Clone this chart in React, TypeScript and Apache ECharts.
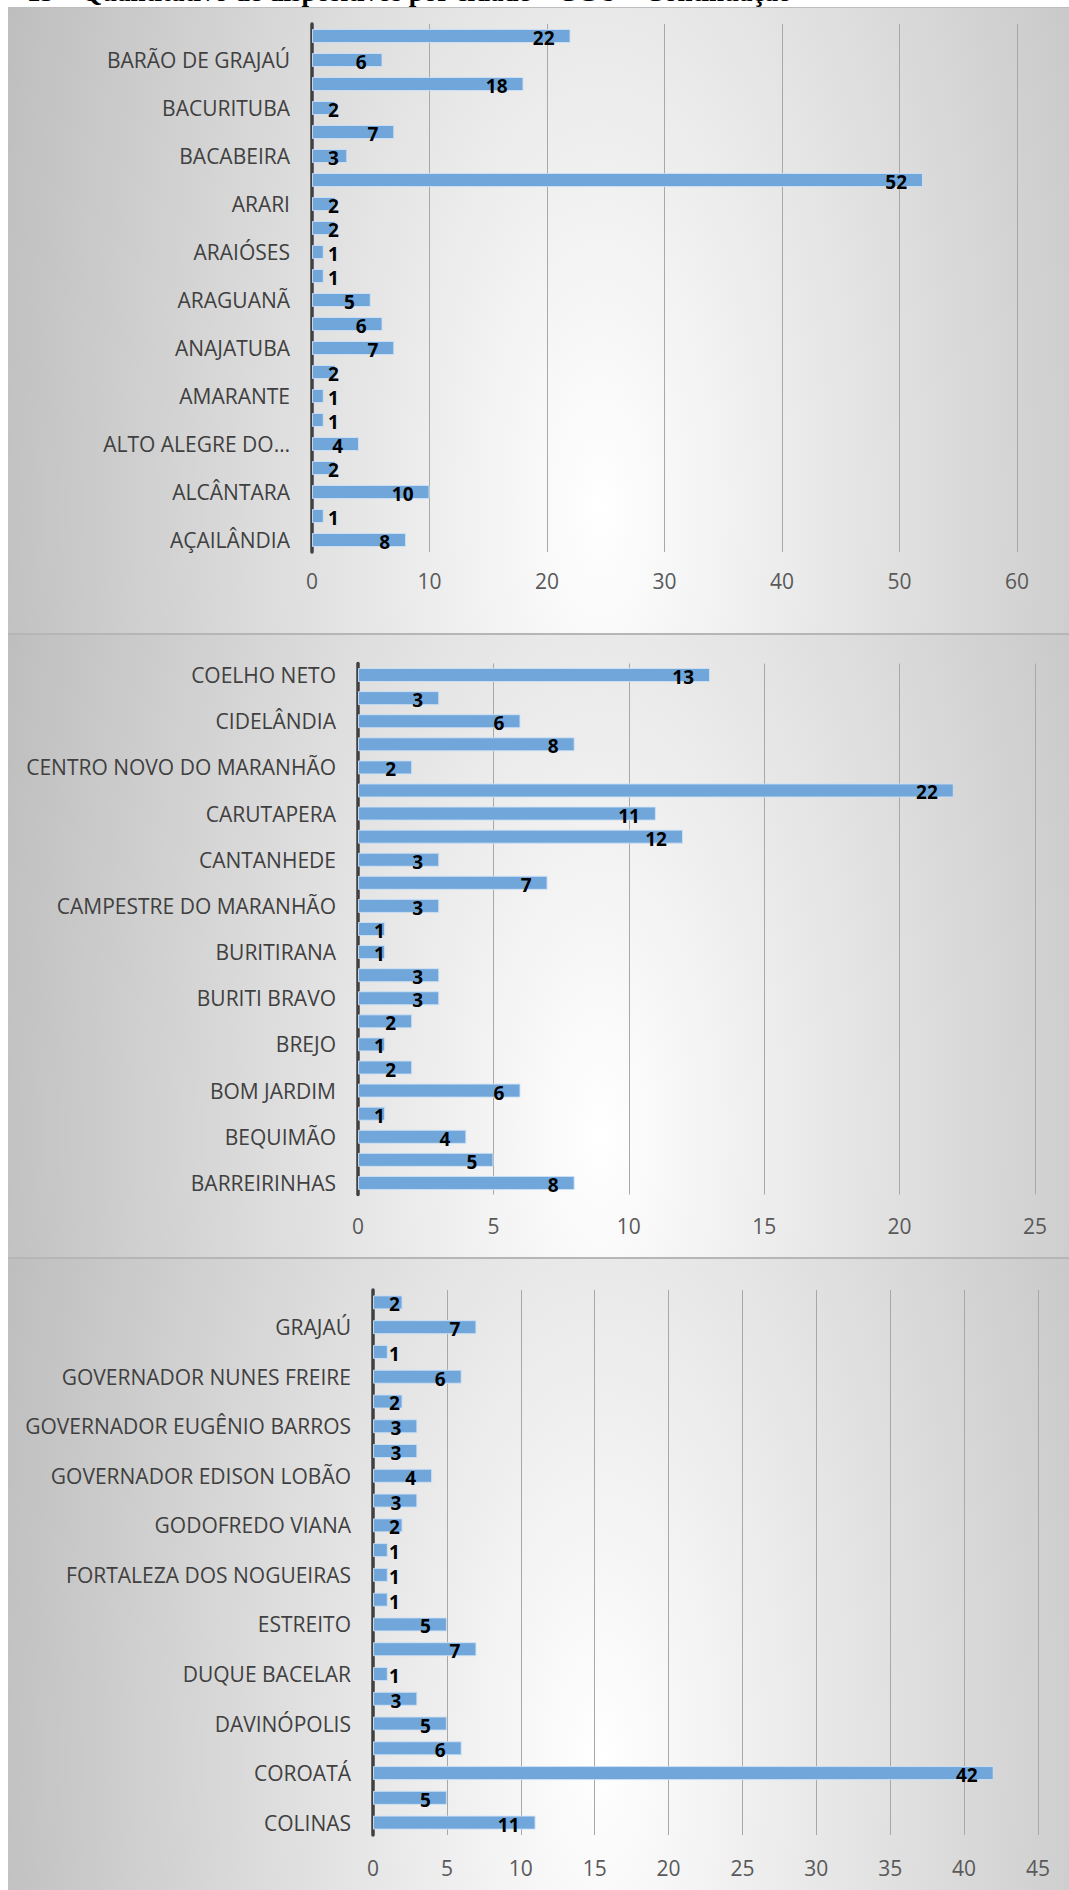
import React, { useEffect, useRef } from "react";
import * as echarts from "echarts";

// ---------- data (bottom → top of each panel) ----------
const titleText = "15 – Quantitativo de dispositivos por cidade – CGU – Continuação";

const cities1 = ["AÇAILÂNDIA", "", "ALCÂNTARA", "", "ALTO ALEGRE DO…", "", "AMARANTE", "", "ANAJATUBA", "", "ARAGUANÃ", "", "ARAIÓSES", "", "ARARI", "", "BACABEIRA", "", "BACURITUBA", "", "BARÃO DE GRAJAÚ", ""];
const values1 = [8, 1, 10, 2, 4, 1, 1, 2, 7, 6, 5, 1, 1, 2, 2, 52, 3, 7, 2, 18, 6, 22];
const ticks1 = { max: 60, interval: 10 };

const cities2 = ["BARREIRINHAS", "", "BEQUIMÃO", "", "BOM JARDIM", "", "BREJO", "", "BURITI BRAVO", "", "BURITIRANA", "", "CAMPESTRE DO MARANHÃO", "", "CANTANHEDE", "", "CARUTAPERA", "", "CENTRO NOVO DO MARANHÃO", "", "CIDELÂNDIA", "", "COELHO NETO"];
const values2 = [8, 5, 4, 1, 6, 2, 1, 2, 3, 3, 1, 1, 3, 7, 3, 12, 11, 22, 2, 8, 6, 3, 13];
const ticks2 = { max: 25, interval: 5 };

const cities3 = ["COLINAS", "", "COROATÁ", "", "DAVINÓPOLIS", "", "DUQUE BACELAR", "", "ESTREITO", "", "FORTALEZA DOS NOGUEIRAS", "", "GODOFREDO VIANA", "", "GOVERNADOR EDISON LOBÃO", "", "GOVERNADOR EUGÊNIO BARROS", "", "GOVERNADOR NUNES FREIRE", "", "GRAJAÚ", ""];
const values3 = [11, 5, 42, 6, 5, 3, 1, 7, 5, 1, 1, 1, 2, 3, 4, 3, 3, 2, 6, 1, 7, 2];
const ticks3 = { max: 45, interval: 5 };

// ---------- layout ----------
const W = 1069;
const H = 1890;
const grids = [
  { left: 312, top: 24, width: 705, height: 528, labelMargin: 18 },
  { left: 358, top: 663.5, width: 677, height: 531, labelMargin: 21 },
  { left: 373, top: 1290, width: 665, height: 545, labelMargin: 22 },
];
const panels = [
  { top: 7, height: 626, border: "1px solid #bdbdbd" },
  { top: 633, height: 624, border: "2px solid #b6b6b6" },
  { top: 1257, height: 640, border: "2px solid #b6b6b6" },
];

const FONT = '"Open Sans", "Noto Sans", sans-serif';
const BAR = "#70a6da";
const VAL_FS = 19;

function barData(vals: number[], max: number, width: number) {
  const ppu = width / max;
  return vals.map((v) => {
    const tw = String(v).length * VAL_FS * 0.57;
    const fits = v * ppu - 17 - tw >= 16;
    return {
      value: v,
      label: fits
        ? { position: "insideRight", distance: 16 }
        : { position: "insideLeft", distance: 16 },
    };
  });
}

export default function App() {
  const ref = useRef<HTMLDivElement>(null);

  useEffect(() => {
    if (!ref.current) return;
    const chart = echarts.init(ref.current, undefined, { renderer: "svg", width: W, height: H });
    const sets = [
      { cities: cities1, values: values1, ticks: ticks1 },
      { cities: cities2, values: values2, ticks: ticks2 },
      { cities: cities3, values: values3, ticks: ticks3 },
    ];
    chart.setOption({
      animation: false,
      backgroundColor: "transparent",
      graphic: [
        {
          type: "text",
          x: 27,
          y: 5,
          z: 0,
          style: {
            text: titleText,
            font: 'bold 27px "Liberation Serif", "Times New Roman", serif',
            fill: "#000",
            verticalAlign: "bottom",
            textVerticalAlign: "bottom",
          },
        },
      ],
      grid: grids.map((g) => ({ left: g.left, top: g.top, width: g.width, height: g.height, containLabel: false })),
      xAxis: sets.map((s, i) => ({
        type: "value",
        gridIndex: i,
        min: 0,
        max: s.ticks.max,
        interval: s.ticks.interval,
        axisLine: { show: false },
        axisTick: { show: false },
        splitLine: { show: true, lineStyle: { color: "#a8a8a8", width: 1 } },
        axisLabel: {
          color: "#595959",
          fontSize: 21,
          fontFamily: FONT,
          margin: grids[i].labelMargin,
        },
      })),
      yAxis: sets.map((s, i) => ({
        type: "category",
        gridIndex: i,
        data: s.cities,
        axisLine: { show: true, lineStyle: { color: "#404040", width: 3.5 } },
        axisTick: { show: false },
        splitLine: { show: false },
        axisLabel: {
          interval: (_idx: number, val: string) => val !== "",
          color: "#404040",
          fontSize: 21,
          fontFamily: FONT,
          margin: 22,
        },
      })),
      series: sets.map((s, i) => ({
        type: "bar",
        xAxisIndex: i,
        yAxisIndex: i,
        barWidth: 14,
        data: barData(s.values, s.ticks.max, grids[i].width),
        itemStyle: { color: BAR, borderColor: "rgba(205,225,245,0.9)", borderWidth: 1 },
        label: {
          show: true,
          color: "#000",
          fontWeight: "bold",
          fontSize: VAL_FS,
          lineHeight: 17,
          fontFamily: FONT,
          offset: [0, 2],
        },
      })),
    });
    return () => chart.dispose();
  }, []);

  return (
    <div style={{ position: "absolute", left: 0, top: 0, width: W, height: H, background: "#fff", overflow: "hidden" }}>
      {panels.map((p, i) => (
        <div
          key={i}
          style={{
            position: "absolute",
            left: 8,
            top: p.top,
            width: W - 8,
            height: p.height,
            boxSizing: "border-box",
            borderTop: p.border,
            background: "radial-gradient(650px 1500px at 592px 500px, #ffffff 0%, #bcbcbc 100%)",
          }}
        />
      ))}
      <div ref={ref} style={{ position: "absolute", left: 0, top: 0, width: W, height: H }} />
    </div>
  );
}
